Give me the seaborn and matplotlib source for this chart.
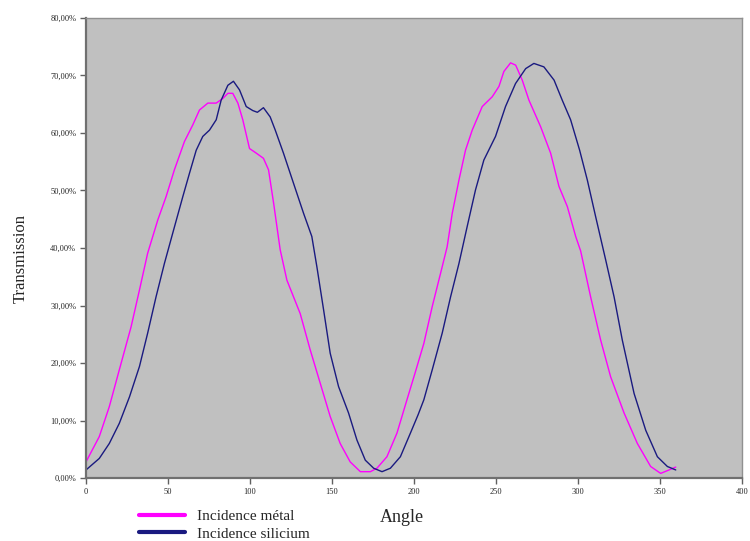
import pandas as pd
import matplotlib
matplotlib.use("Agg")
import matplotlib.pyplot as plt
from matplotlib.ticker import FuncFormatter, MultipleLocator
import seaborn as sns

# Incidence métal (magenta)
angle_metal = [0, 8.1, 14.2, 20.3, 27.5, 32.6, 37.6, 43.8, 48.8, 53.9, 60, 65.1, 69.2, 74.3,
               79.4, 83.4, 86.5, 89.5, 92.6, 95.6, 99.7, 103.8, 108.2, 111.3, 114.4, 118.4,
               122.5, 130.6, 136.7, 142.8, 148.9, 155, 161.1, 167.3, 173.4, 177.4, 183.5,
               189.6, 195.7, 200.9, 206, 211.1, 216.2, 220.2, 223.3, 227.4, 231.4, 235.5,
               241.6, 247.7, 251.8, 254.8, 258.9, 262, 266, 270.1, 277.2, 283.3, 288.4,
               293.5, 298.6, 301.6, 307.7, 313.8, 319.9, 328.1, 336.2, 344.3, 350.4, 355.5,
               359.6]
trans_metal = [2.8, 7.2, 12.4, 18.8, 26.3, 32.7, 39.1, 44.9, 48.9, 53.6, 58.5, 61.4, 64.0, 65.2,
               65.2, 66.0, 66.9, 66.9, 65.2, 62.3, 57.3, 56.5, 55.6, 53.6, 47.8, 39.7,
               34.4, 28.6, 22.3, 16.5, 10.7, 6.0, 2.8, 1.1, 1.1, 1.7, 3.7,
               7.8, 13.6, 18.5, 23.4, 29.8, 35.6, 40.2, 46.0, 51.8, 57.0, 60.5,
               64.6, 66.3, 68.1, 70.7, 72.2, 71.8, 69.2, 65.7, 61.1, 56.5, 50.7,
               47.2, 42.0, 39.5, 31.5, 24.0, 17.6, 11.3, 6.0, 2.0, 0.8, 1.4,
               1.9]

# Incidence silicium (navy)
angle_si = [0, 8.1, 14.2, 20.3, 26.5, 32.6, 37.6, 42.7, 47.8, 52.9, 59, 63.1, 67.2, 71.2, 75.3,
            79.4, 82.4, 86.5, 89.9, 93.6, 97.7, 101.7, 104.5, 108.2, 112.3, 115.4, 120.4,
            126.6, 132.7, 137.7, 140.8, 144.9, 148.9, 154, 160.1, 165.2, 170.3, 175.4,
            180.5, 185.6, 191.7, 197.8, 202.5, 206, 211.1, 217.2, 222.3, 227.4, 232.4,
            237.5, 242.6, 249.7, 255.8, 261.9, 268.1, 273.1, 279.2, 285.4, 290.4, 295.5,
            301.0, 305.7, 310.8, 316.9, 322, 327, 334.2, 341.3, 348.4, 354.5, 359.6]
trans_si = [1.4, 3.4, 6.0, 9.5, 14.1, 19.4, 25.2, 31.5, 37.3, 42.6, 48.9, 53.0, 57.0, 59.4, 60.5,
            62.3, 65.7, 68.3, 69.0, 67.5, 64.6, 63.9, 63.6, 64.4, 62.8, 60.5, 56.5,
            51.2, 46.0, 42.0, 36.7, 29.2, 21.7, 15.9, 11.3, 6.6, 3.1, 1.7,
            1.1, 1.7, 3.7, 7.8, 11.0, 13.6, 18.8, 25.2, 31.5, 37.3, 43.7,
            50.1, 55.3, 59.4, 64.6, 68.6, 71.2, 72.1, 71.5, 69.2, 65.7, 62.3,
            57.0, 51.8, 45.4, 37.9, 31.5, 24.0, 14.7, 8.3, 3.7, 2.0, 1.4]

x_ticks = [0, 50, 100, 150, 200, 250, 300, 350, 400]
labels = ["Incidence métal", "Incidence silicium"]
colors = ["#FF00FF", "#1A1A80"]

df = pd.concat([
    pd.DataFrame({"Angle": angle_metal, "Transmission": [v / 100 for v in trans_metal], "serie": labels[0]}),
    pd.DataFrame({"Angle": angle_si, "Transmission": [v / 100 for v in trans_si], "serie": labels[1]}),
])

sns.set_style("white")
plt.rcParams["font.family"] = ["Liberation Serif", "DejaVu Serif"]

fig = plt.figure(figsize=(7.5, 5.41), dpi=100)
ax = fig.add_axes([86 / 750, 1 - 478 / 541, 656 / 750, 460 / 541])
ax.set_facecolor("#C0C0C0")

sns.lineplot(data=df, x="Angle", y="Transmission", hue="serie", palette=colors,
             sort=False, estimator=None, linewidth=1.0, ax=ax, legend=False)

ax.set_xlim(0, 400)
ax.set_ylim(0, 0.8)
ax.set_xticks(x_ticks)
ax.yaxis.set_major_locator(MultipleLocator(0.1))
ax.yaxis.set_major_formatter(FuncFormatter(lambda v, p: f"{v * 100:.2f}%".replace(".", ",")))
ax.tick_params(axis="both", labelsize=6, length=4, width=1, color="#606060", direction="out",
               left=True, bottom=True, pad=3)
for s in ["left", "bottom"]:
    ax.spines[s].set_color("#707070")
    ax.spines[s].set_linewidth(1.6)
for s in ["top", "right"]:
    ax.spines[s].set_color("#909090")
    ax.spines[s].set_linewidth(1.0)

ax.set_xlabel("Angle", fontsize=13)
ax.xaxis.set_label_coords(0.481, -0.068)
ax.set_ylabel("Transmission", fontsize=12)
ax.yaxis.set_label_coords(-0.088, 0.478)

handles = [plt.Line2D([], [], color=c, linewidth=3) for c in colors]
fig.legend(handles, labels, loc="center left", bbox_to_anchor=(139 / 750, 1 - 525 / 541),
           frameon=False, fontsize=11, handlelength=3.0, handletextpad=0.8, labelspacing=0.28,
           borderpad=0, borderaxespad=0)

fig.savefig("out.png", dpi=100)
